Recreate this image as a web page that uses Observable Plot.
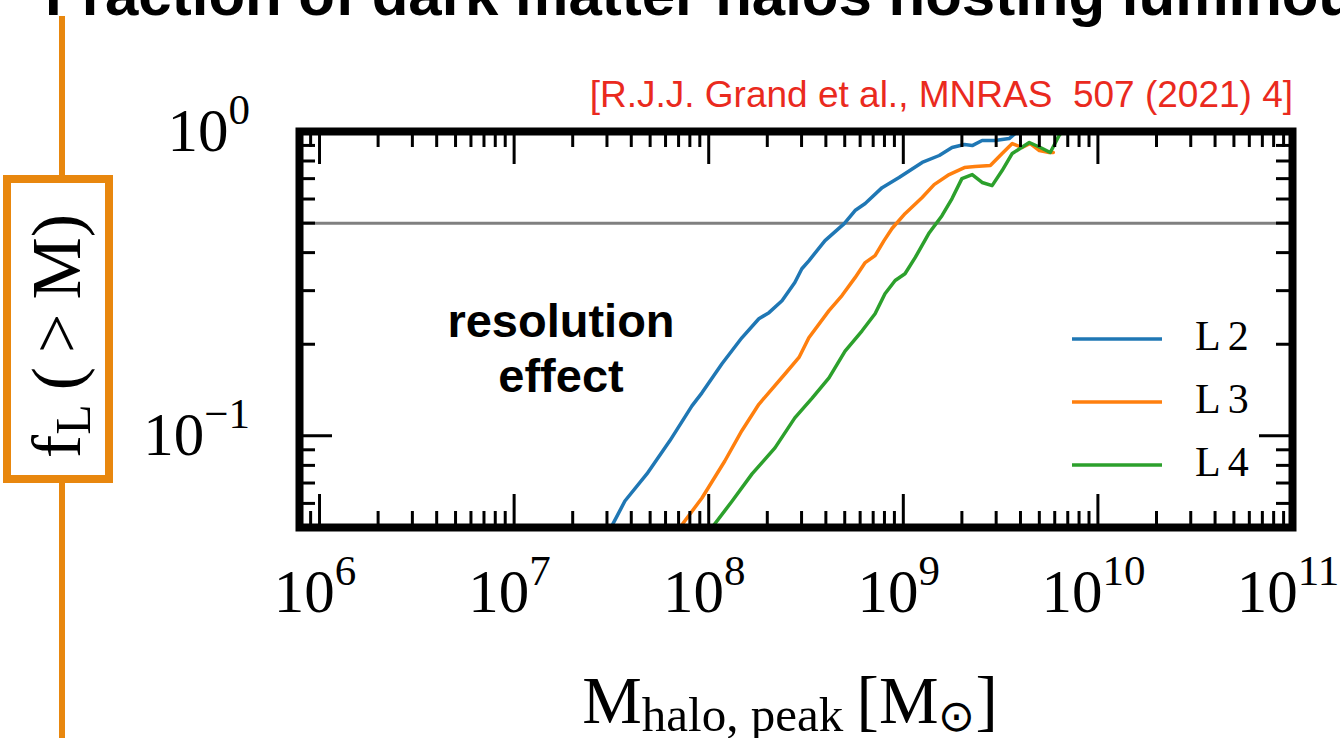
<!DOCTYPE html>
<html><head><meta charset="utf-8">
<script src="https://cdn.jsdelivr.net/npm/d3@7"></script>
<script src="https://cdn.jsdelivr.net/npm/@observablehq/plot@0.6"></script>
<style>
html,body{margin:0;padding:0;background:#fff;}
#wrap{position:relative;width:1340px;height:738px;overflow:hidden;}
svg{display:block;}
</style></head><body><div id="wrap"></div>
<script>
// ---- data ----
const seriesNames = ["L 2", "L 3", "L 4"];
const seriesColors = ["#1f77b4", "#ff7f0e", "#2ca02c"];

const massL2 = [3.18e7, 3.71e7, 4.81e7, 6.31e7, 8.20e7, 9.23e7, 1.17e8, 1.48e8, 1.81e8, 2.04e8, 2.38e8, 2.77e8, 3.01e8, 3.27e8, 3.96e8, 4.97e8, 5.65e8, 6.37e8, 7.78e8, 9.51e8, 1.25e9, 1.53e9, 1.78e9, 2.06e9, 2.26e9, 2.54e9, 2.96e9, 3.50e9, 3.76e9, 3.89e9];
const fracL2 = [0.0506, 0.0611, 0.075, 0.0963, 0.1255, 0.1385, 0.1725, 0.210, 0.2426, 0.254, 0.278, 0.319, 0.354, 0.376, 0.438, 0.498, 0.550, 0.580, 0.654, 0.706, 0.791, 0.834, 0.886, 0.906, 0.899, 0.934, 0.934, 0.948, 0.985, 1.0];

const massL3 = [7.11e7, 9.23e7, 1.21e8, 1.48e8, 1.81e8, 2.47e8, 2.91e8, 3.27e8, 4.15e8, 4.84e8, 5.65e8, 6.37e8, 7.16e8, 7.96e8, 8.75e8, 1.02e9, 1.25e9, 1.44e9, 1.72e9, 2.06e9, 2.34e9, 2.80e9, 3.22e9, 3.63e9, 4.08e9, 4.49e9, 5.00e9, 5.62e9, 5.90e9];
const fracL3 = [0.05, 0.0625, 0.0827, 0.104, 0.127, 0.160, 0.181, 0.210, 0.258, 0.289, 0.331, 0.371, 0.391, 0.438, 0.480, 0.537, 0.607, 0.669, 0.722, 0.761, 0.767, 0.773, 0.847, 0.913, 0.886, 0.913, 0.866, 0.853, 0.853];

const massL4 = [1.04e8, 1.32e8, 1.67e8, 2.19e8, 2.77e8, 3.40e8, 4.15e8, 5.02e8, 6.14e8, 7.16e8, 8.05e8, 9.08e8, 1.02e9, 1.15e9, 1.36e9, 1.58e9, 1.78e9, 2.00e9, 2.26e9, 2.54e9, 2.86e9, 3.22e9, 3.63e9, 4.44e9, 5.06e9, 5.69e9, 6.32e9, 6.71e9];
const fracL4 = [0.05, 0.0611, 0.075, 0.0913, 0.1146, 0.133, 0.155, 0.190, 0.2215, 0.252, 0.293, 0.324, 0.341, 0.385, 0.465, 0.529, 0.602, 0.700, 0.722, 0.680, 0.664, 0.744, 0.847, 0.920, 0.886, 0.853, 0.97, 1.02];

const thresholdFrac = [0.5];
const xTickExps = [6, 7, 8, 9, 10, 11];
const yTickExps = [0, -1];
const xDomain = [7.89e5, 1e11];
const yDomain = [0.05, 1];

const titleText = "Fraction of dark matter halos hosting luminous galaxies";
const citeText = "[R.J.J. Grand et al., MNRAS\u00a0 507 (2021) 4]";
const annotLines = ["resolution", "effect"];

// ---- build table ----
const masses = [massL2, massL3, massL4];
const fracs = [fracL2, fracL3, fracL4];
const rows = [];
seriesNames.forEach((s, i) => masses[i].forEach((m, j) => rows.push({series: s, mass: m, frac: fracs[i][j]})));

// tick positions (majors and minors per decade)
const xMajor = xTickExps.map(e => 10 ** e);
const xMinor = [];
for (let e = 5; e <= 10; e++) for (let k = 2; k <= 9; k++) { const v = k * 10 ** e; if (v >= xDomain[0] && v <= xDomain[1]) xMinor.push(v); }
const yMajor = yTickExps.map(e => 10 ** e);
const yMinor = [];
for (let e = -2; e <= -1; e++) for (let k = 2; k <= 9; k++) { const v = k * 10 ** e; if (v >= yDomain[0] && v <= yDomain[1]) yMinor.push(v); }

const W = 1340, H = 738;
const mL = 299, mR = 48, mT = 131, mB = 211;
const innerW = W - mL - mR, innerH = H - mT - mB;
const majLen = 33, minLen = 16, tickW = 3;

const chart = Plot.plot({
  width: W, height: H,
  marginLeft: mL, marginRight: mR, marginTop: mT, marginBottom: mB,
  style: {background: "transparent"},
  x: {type: "log", domain: xDomain, axis: null},
  y: {type: "log", domain: yDomain, axis: null},
  color: {domain: seriesNames, range: seriesColors},
  marks: [
    Plot.ruleY(thresholdFrac, {stroke: "#808080", strokeWidth: 3}),
    Plot.line(rows, {x: "mass", y: "frac", z: "series", stroke: "series", strokeWidth: 3.5, clip: true}),
    // inward ticks on all four sides
    Plot.tickX(xMinor, {x: d => d, stroke: "black", strokeWidth: tickW, insetTop: innerH - minLen}),
    Plot.tickX(xMinor, {x: d => d, stroke: "black", strokeWidth: tickW, insetBottom: innerH - minLen}),
    Plot.tickX(xMajor, {x: d => d, stroke: "black", strokeWidth: tickW, insetTop: innerH - majLen}),
    Plot.tickX(xMajor, {x: d => d, stroke: "black", strokeWidth: tickW, insetBottom: innerH - majLen}),
    Plot.tickY(yMinor, {y: d => d, stroke: "black", strokeWidth: tickW, insetRight: innerW - minLen}),
    Plot.tickY(yMinor, {y: d => d, stroke: "black", strokeWidth: tickW, insetLeft: innerW - minLen}),
    Plot.tickY(yMajor, {y: d => d, stroke: "black", strokeWidth: tickW, insetRight: innerW - majLen}),
    Plot.tickY(yMajor, {y: d => d, stroke: "black", strokeWidth: tickW, insetLeft: innerW - majLen}),
    Plot.frame({stroke: "black", strokeWidth: 8})
  ]
});
document.getElementById("wrap").appendChild(chart);

const xs = chart.scale("x"), ys = chart.scale("y");
const svg = d3.select(chart);
const serif = "'Liberation Serif', 'Times New Roman', serif";
const sans = "'Liberation Sans', Arial, Helvetica, sans-serif";

// x tick labels 10^n
xTickExps.forEach(e => {
  const t = svg.append("text").attr("x", xs.apply(10 ** e) - 4).attr("y", 612)
    .attr("text-anchor", "middle").attr("font-family", serif).attr("font-size", 61).attr("fill", "black");
  t.append("tspan").text("10");
  t.append("tspan").attr("font-size", 43).attr("dy", -27).text(String(e));
});
// y tick labels
yTickExps.forEach(e => {
  const t = svg.append("text").attr("x", 250).attr("y", ys.apply(10 ** e) + 20)
    .attr("text-anchor", "end").attr("font-family", serif).attr("font-size", 61).attr("fill", "black");
  t.append("tspan").text("10");
  t.append("tspan").attr("font-size", 43).attr("dy", -27).text(e < 0 ? "\u2212" + Math.abs(e) : String(e));
});

// x axis label
{
  const t = svg.append("text").attr("x", 790).attr("y", 723).attr("text-anchor", "middle")
    .attr("font-family", serif).attr("font-size", 67).attr("fill", "black");
  t.append("tspan").text("M");
  t.append("tspan").attr("font-size", 49).attr("dy", 8).text("halo, peak");
  t.append("tspan").attr("dy", -8).text("\u2009[M");
  t.append("tspan").attr("font-size", 44).attr("dy", 8).text("\u2299");
  t.append("tspan").attr("dy", -8).text("]");
}

// title (cut by the top edge, as in the reference)
svg.append("text").attr("x", 45).attr("y", 15).attr("text-anchor", "start").attr("font-family", sans).attr("font-weight", "bold")
  .attr("font-size", 60).attr("fill", "black").text(titleText);

// citation
svg.append("text").attr("x", 1293).attr("y", 107).attr("text-anchor", "end").attr("font-family", sans)
  .attr("font-size", 37).attr("fill", "#ea2a1e").text(citeText);

// annotation
annotLines.forEach((s, i) => svg.append("text").attr("x", 561).attr("y", 337 + i * 55).attr("text-anchor", "middle")
  .attr("font-family", sans).attr("font-weight", "bold").attr("font-size", 47).attr("fill", "black").text(s));

// legend
seriesNames.forEach((s, i) => {
  const cy = 339 + i * 63;
  svg.append("line").attr("x1", 1072).attr("x2", 1162).attr("y1", cy).attr("y2", cy)
    .attr("stroke", seriesColors[i]).attr("stroke-width", 3.5);
  const t = svg.append("text").attr("x", 1195).attr("y", cy + 11).attr("text-anchor", "start").attr("font-family", serif)
    .attr("font-size", 42).attr("fill", "black");
  t.append("tspan").text("L");
  t.append("tspan").attr("dx", 7).text(s.split(" ")[1]);
});

// orange decoration: vertical line with boxed y label
const orange = "#e8870e";
svg.append("line").attr("x1", 62).attr("x2", 62).attr("y1", 16).attr("y2", H).attr("stroke", orange).attr("stroke-width", 6);
svg.append("rect").attr("x", 7).attr("y", 179).attr("width", 102).attr("height", 300)
  .attr("fill", "white").attr("stroke", orange).attr("stroke-width", 8);
{
  const t = svg.append("text").attr("transform", "translate(80,336) rotate(-90)").attr("text-anchor", "middle")
    .attr("font-family", serif).attr("font-size", 70).attr("fill", "black");
  t.append("tspan").text("f");
  t.append("tspan").attr("font-size", 50).attr("dy", 10).text("L");
  t.append("tspan").attr("dy", -10).text("\u2009(\u2009>\u2009M)");
}
</script></body></html>
